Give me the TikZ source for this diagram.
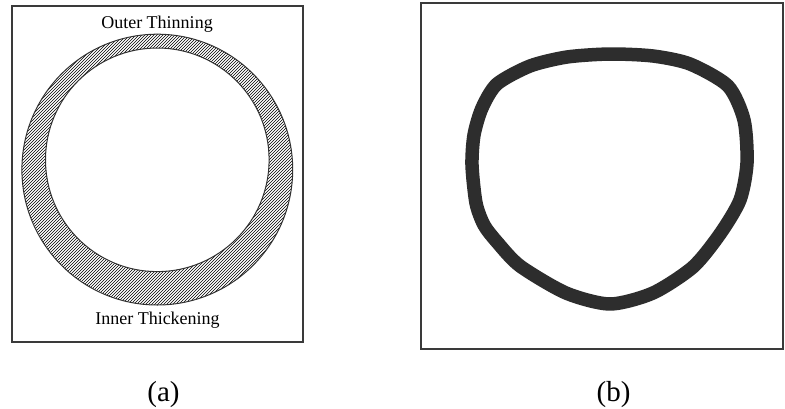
\documentclass[tikz,border=0pt]{standalone}
\usepackage{fontspec}
\setmainfont{Liberation Serif}
\usetikzlibrary{patterns}
\definecolor{blobgray}{HTML}{2D2D2D}
\definecolor{framegray}{HTML}{3A3A3A}
\tikzset{
  framebox/.style={draw=framegray, line width=1.3pt},
  ringline/.style={draw=black!80, line width=1pt},
  ringfill/.style={pattern=north east lines, pattern color=black},
  lbl/.style={font=\fontsize{18}{20}\selectfont, anchor=base, inner sep=0pt},
  captext/.style={font=\fontsize{29}{31}\selectfont, anchor=base, inner sep=0pt},
  blob/.style={draw=blobgray, line width=13.5pt, line join=round}
}
\begin{document}
\begin{tikzpicture}[x=1pt,y=-1pt]
\useasboundingbox (0,0) rectangle (785,408);
\fill[white] (0,0) rectangle (785,408);
% (a) panel
\draw[framebox] (12,6) rectangle (303,342);
\fill[ringfill, even odd rule] (157.3,169.6) circle[radius=135.4] (157.3,159.8) circle[radius=111.8];
\draw[ringline] (157.3,169.6) circle[radius=135.4];
\draw[ringline] (157.3,159.8) circle[radius=111.8];
\node[lbl] (outer) at (157,28) {Outer Thinning};
\node[lbl] (inner) at (157.5,324) {Inner Thickening};
% (b) panel
\draw[framebox] (421,3) rectangle (783,349);
\draw[blob] plot[smooth cycle, tension=0.45] coordinates {
 (610,54) (567,57) (530,66) (497,84) (482,108) (474,135) (472,165) (476,203)
 (484,225) (497,242) (520,266) (566,293) (610,304) (653,293) (693,267) (720,234)
 (740,200) (747,163) (744,120) (728,86) (690,64) (653,56)};
% captions
\node[captext] (capa) at (163.5,401) {(a)};
\node[captext] (capb) at (613.5,401) {(b)};
\end{tikzpicture}
\end{document}
